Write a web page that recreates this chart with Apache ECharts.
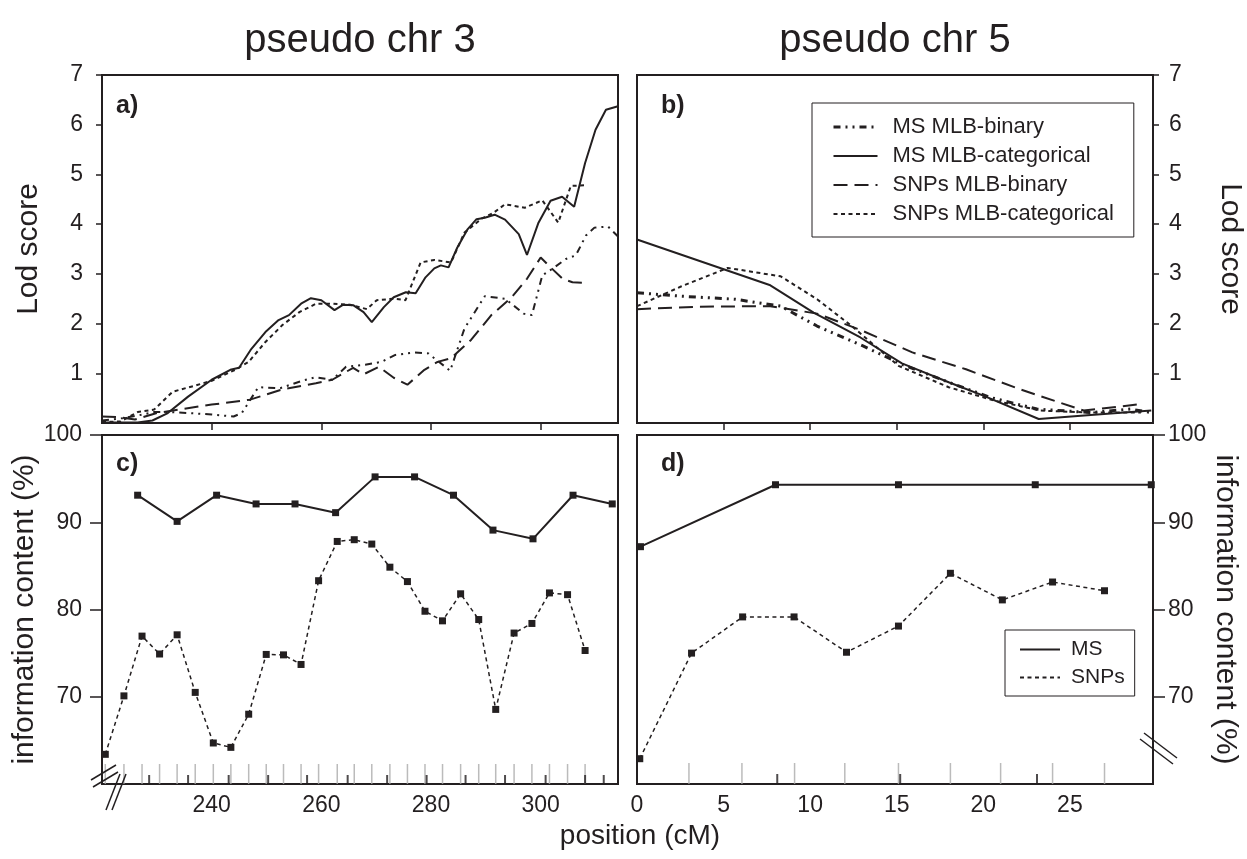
<!DOCTYPE html>
<html><head><meta charset="utf-8">
<script src="https://cdn.jsdelivr.net/npm/echarts@6/dist/echarts.min.js"></script>
<style>html,body{margin:0;padding:0;background:#fff}#c{width:1247px;height:859px}</style>
</head><body><div id="c"></div>
<script>
// ---- chr 3 LOD curves (panel a) ----
const chr3PosMSBin = [220,224,226.5,229.5,232.5,236,240,244,245.5,248.5,252.5,256.5,259,262,264.5,268,271,273.5,277,279.5,283.5,286.1,289.8,293.5,296.9,298.4,300.3,302.1,304.6,306.4,308.25,309.8,312.3,314.1];
const chr3LodMSBin = [0.05,0.1,0.15,0.22,0.22,0.2,0.17,0.13,0.2,0.72,0.7,0.85,0.92,0.87,1.13,1.17,1.23,1.37,1.42,1.4,1.05,1.9,2.55,2.5,2.2,2.17,2.97,3.1,3.3,3.37,3.77,3.93,3.95,3.75];
const chr3PosMSCat = [220.0,226.5,229.2,232.0,235.7,240.0,243.4,245.0,247.1,249.8,252.2,254.1,256.3,258.1,260.0,262.4,264.0,265.8,267.7,269.2,271.4,273.2,275.4,277.2,279.0,280.6,281.8,283.2,284.8,286.7,288.3,289.8,291.6,293.5,296.0,297.5,299.6,301.8,303.9,306.1,308.1,310.0,311.9,314.1];
const chr3LodMSCat = [0.01,0.01,0.05,0.2,0.53,0.87,1.07,1.11,1.47,1.83,2.07,2.17,2.4,2.51,2.47,2.27,2.38,2.37,2.23,2.03,2.33,2.53,2.63,2.61,2.93,3.11,3.17,3.13,3.53,3.9,4.1,4.13,4.19,4.09,3.8,3.38,4.03,4.47,4.55,4.35,5.23,5.9,6.3,6.37];
const chr3PosSNPBin = [220,222.8,226,230,234,240,247,253,259,262,265.8,267.7,270.5,273.2,275.7,278.8,281.2,283.6,287.3,291,294.7,297.5,300,302.1,304,305.8,307.9];
const chr3LodSNPBin = [0.13,0.12,0.07,0.2,0.27,0.37,0.47,0.68,0.8,0.87,1.11,0.98,1.13,0.91,0.77,1.07,1.23,1.3,1.67,2.17,2.53,2.9,3.33,3.1,2.9,2.83,2.82];
const chr3PosSNPCat = [220.0,223.4,226.5,229.5,232.9,236.9,240.0,244.3,246.75,249.8,252.9,256.0,259.05,262.1,265.2,268.3,270.1,273.2,275.35,278.1,280.6,283.65,286.1,289.2,291.3,293.5,297.1,300.3,303.2,305.5,307.9];
const chr3LodSNPCat = [0.02,0.03,0.22,0.27,0.63,0.75,0.85,1.07,1.23,1.63,1.97,2.23,2.4,2.4,2.38,2.29,2.47,2.5,2.47,3.23,3.28,3.23,3.83,4.11,4.22,4.4,4.33,4.48,4.03,4.77,4.78];

// ---- chr 5 LOD curves (panel b) ----
const chr5PosMSBin = [0,2.57,5.65,8.3,10.4,13.05,15.3,18.0,20.45,23.1,26.2,28.5,29.7];
const chr5LodMSBin = [2.62,2.55,2.49,2.35,1.95,1.55,1.18,0.82,0.51,0.28,0.21,0.28,0.21];
const chr5PosMSCat = [0,7.7,10.2,12.9,15.3,18.0,20.0,23.2,26.2,29.7];
const chr5LodMSCat = [3.69,2.77,2.22,1.72,1.2,0.82,0.55,0.08,0.16,0.25];
const chr5PosSNPBin = [0,3.6,7.7,10.4,12.85,15.9,19.0,22.1,25.8,29.1];
const chr5LodSNPBin = [2.29,2.34,2.35,2.2,1.88,1.42,1.08,0.68,0.25,0.38];
const chr5PosSNPCat = [0,2.57,5.24,8.3,10.4,12.4,15.1,18.0,20.65,23.3,26.2,29.1];
const chr5LodSNPCat = [2.35,2.75,3.12,2.95,2.49,1.95,1.15,0.72,0.45,0.25,0.21,0.21];

// ---- information content (panels c, d) ----
const chr3PosInfoMS = [226.5,233.7,240.9,248.1,255.2,262.6,269.8,277.0,284.1,291.3,298.6,305.9,313.05];
const chr3InfoMS = [93.1,90.1,93.1,92.1,92.1,91.1,95.2,95.2,93.1,89.1,88.1,93.1,92.1];
const chr3PosInfoSNP = [220.6,224.0,227.3,230.5,233.7,237.0,240.3,243.5,246.75,249.95,253.1,256.3,259.5,262.9,266.0,269.2,272.5,275.7,278.9,282.1,285.4,288.7,291.8,295.15,298.4,301.6,304.9,308.1];
const chr3InfoSNP = [63.4,70.1,76.95,74.9,77.1,70.5,64.7,64.2,68.0,74.85,74.8,73.7,83.3,87.8,88.0,87.5,84.85,83.2,79.8,78.7,81.8,78.85,68.55,77.3,78.4,81.9,81.7,75.3];
const chr5PosInfoMS = [0.2,8.0,15.1,23.0,29.7];
const chr5InfoMS = [87.2,94.3,94.3,94.3,94.3];
const chr5PosInfoSNP = [0.16,3.15,6.1,9.07,12.1,15.1,18.1,21.1,24.0,27.0];
const chr5InfoSNP = [62.9,75.0,79.15,79.15,75.1,78.1,84.15,81.1,83.15,82.15];

// ---- marker position ticks ----
const chr3SNPMarkers = [220.6,224.0,227.3,230.5,233.7,237.0,240.3,243.5,246.75,249.95,253.1,256.3,259.5,262.9,266.0,269.2,272.5,275.7,278.9,282.1,285.4,288.7,291.8,295.15,298.4,301.6,304.9,308.1];
const chr3MSMarkers = [228.6,235.7,243.1,250.3,257.4,264.8,272.0,279.2,286.3,293.5,300.9,308.1,311.5];
const chr5SNPMarkers = [3.0,6.06,9.1,12.0,15.1,18.1,21.0,24.0,27.0];
const chr5MSMarkers = [8.1,15.2,23.1];

// ---- axis ticks / labels ----
const chr3Ticks = [240,260,280,300];
const chr5Ticks = [5,10,15,20,25];
const chr5Labels = [0,5,10,15,20,25];
const lodTicks = [1,2,3,4,5,6,7];
const infoTicks = [70,80,90,100];

const legendLod = ['MS MLB-binary','MS MLB-categorical','SNPs MLB-binary','SNPs MLB-categorical'];
const legendInfo = ['MS','SNPs'];

const zip = (xs, ys) => xs.map((x, i) => [x, ys[i]]);
const INK = '#231f20';
const FONT = '"Liberation Sans", Arial, Helvetica, sans-serif';

const chart = echarts.init(document.getElementById('c'), null, {renderer: 'canvas'});

const gridBase = {show: true, borderColor: INK, borderWidth: 2, backgroundColor: 'transparent'};
const grids = [
  Object.assign({left: 102, top: 75, width: 516, height: 348}, gridBase),
  Object.assign({left: 637, top: 75, width: 516, height: 348}, gridBase),
  Object.assign({left: 102, top: 435, width: 516, height: 349}, gridBase),
  Object.assign({left: 637, top: 435, width: 516, height: 349}, gridBase)
];

function xAx(gi, min, max, ticks, labels) {
  return {
    type: 'value', gridIndex: gi, min: min, max: max,
    splitLine: {show: false},
    axisLine: {show: false, onZero: false},
    axisTick: ticks ? {show: true, customValues: ticks, length: 7, lineStyle: {color: INK, width: 1.5}} : {show: false},
    axisLabel: labels ? {show: true, customValues: labels, color: INK, fontSize: 23, fontFamily: FONT, margin: 10} : {show: false}
  };
}
function yAx(gi, min, max, ticks, pos, name, nameGap, tickLen, labelMargin) {
  return {
    type: 'value', gridIndex: gi, min: min, max: max, position: pos,
    name: name, nameLocation: 'middle', nameGap: nameGap,
    nameRotate: pos === 'left' ? 90 : -90,
    nameTextStyle: {color: INK, fontSize: 30, fontFamily: FONT},
    splitLine: {show: false},
    axisLine: {show: false, onZero: false},
    axisTick: {show: true, customValues: ticks, length: tickLen, lineStyle: {color: INK, width: 1.5}},
    axisLabel: {show: true, customValues: ticks, color: INK, fontSize: 23, fontFamily: FONT, margin: labelMargin}
  };
}

function curve(name, xi, xs, ys, type, width) {
  return {
    name: name, type: 'line', xAxisIndex: xi, yAxisIndex: xi,
    data: zip(xs, ys), symbol: 'none', smooth: false, silent: true,
    lineStyle: {color: INK, width: width, type: type, cap: 'butt'},
    itemStyle: {color: INK}
  };
}
function info(name, xi, xs, ys, type, width, size) {
  return {
    name: name, type: 'line', xAxisIndex: xi, yAxisIndex: xi,
    data: zip(xs, ys), symbol: 'rect', symbolSize: size, showSymbol: true, silent: true,
    lineStyle: {color: INK, width: width, type: type},
    itemStyle: {color: INK}, z: 3
  };
}
function markerTicks(name, xi, xs, color, h, w) {
  return {
    name: name, type: 'scatter', xAxisIndex: xi, yAxisIndex: xi,
    data: xs.map(x => [x, 60]), symbol: 'rect', symbolSize: [w, h],
    symbolOffset: [0, -h / 2], silent: true,
    itemStyle: {color: color}, z: 1
  };
}

const dashDotDot = [7, 5, 2, 5, 2, 5];
const longDash = [14, 7];
const shortDash = [4, 3.5];

const option = {
  animation: false,
  backgroundColor: '#fff',
  textStyle: {fontFamily: FONT},
  title: [
    {text: 'pseudo chr 3', left: 360, top: 21, textAlign: 'center', padding: 0, textStyle: {fontSize: 40, fontWeight: 'normal', color: INK, fontFamily: FONT}},
    {text: 'pseudo chr 5', left: 895, top: 21, textAlign: 'center', padding: 0, textStyle: {fontSize: 40, fontWeight: 'normal', color: INK, fontFamily: FONT}},
    {text: 'position (cM)', left: 640, top: 822, textAlign: 'center', padding: 0, textStyle: {fontSize: 28, fontWeight: 'normal', color: INK, fontFamily: FONT}},
    {text: 'a)', left: 116, top: 94, padding: 0, textStyle: {fontSize: 25, fontWeight: 'bold', color: INK, fontFamily: FONT}},
    {text: 'b)', left: 661, top: 94, padding: 0, textStyle: {fontSize: 25, fontWeight: 'bold', color: INK, fontFamily: FONT}},
    {text: 'c)', left: 116, top: 452, padding: 0, textStyle: {fontSize: 25, fontWeight: 'bold', color: INK, fontFamily: FONT}},
    {text: 'd)', left: 661, top: 452, padding: 0, textStyle: {fontSize: 25, fontWeight: 'bold', color: INK, fontFamily: FONT}}
  ],
  legend: [
    {
      data: legendLod.map((n, i) => i === 0 ? {name: n, lineStyle: {width: 3}} : {name: n}),
      orient: 'vertical', left: 812, top: 103,
      itemWidth: 44, itemHeight: 14, itemGap: 7, padding: [13, 20, 12, 20],
      borderColor: INK, borderWidth: 1, selectedMode: false,
      itemStyle: {opacity: 0},
      textStyle: {color: INK, fontSize: 22, fontFamily: FONT, padding: [0, 0, 0, 10]}
    },
    {
      data: legendInfo, orient: 'vertical', left: 1005, top: 630,
      itemWidth: 40, itemHeight: 14, itemGap: 7, padding: [9, 10, 8, 14],
      borderColor: INK, borderWidth: 1, selectedMode: false,
      itemStyle: {opacity: 0},
      textStyle: {color: INK, fontSize: 21, fontFamily: FONT, padding: [0, 0, 0, 6]}
    }
  ],
  grid: grids,
  xAxis: [
    xAx(0, 220, 314.1, chr3Ticks, null),
    xAx(1, 0, 29.8, chr5Ticks, null),
    xAx(2, 220, 314.1, null, chr3Ticks),
    xAx(3, 0, 29.8, null, chr5Labels)
  ],
  yAxis: [
    yAx(0, 0, 7, lodTicks, 'left', 'Lod score', 58, 6, 19),
    yAx(1, 0, 7, lodTicks, 'right', 'Lod score', 62, 6, 16),
    yAx(2, 60, 100, infoTicks, 'left', 'information content (%)', 62, 12, 20),
    yAx(3, 60, 100, infoTicks, 'right', 'information content (%)', 56, 12, 15)
  ],
  series: [
    curve('MS MLB-binary', 1, chr5PosMSBin, chr5LodMSBin, dashDotDot, 3),
    curve('MS MLB-categorical', 1, chr5PosMSCat, chr5LodMSCat, 'solid', 2),
    curve('SNPs MLB-binary', 1, chr5PosSNPBin, chr5LodSNPBin, longDash, 2),
    curve('SNPs MLB-categorical', 1, chr5PosSNPCat, chr5LodSNPCat, shortDash, 2),
    curve('MS MLB-binary', 0, chr3PosMSBin, chr3LodMSBin, dashDotDot, 2),
    curve('MS MLB-categorical', 0, chr3PosMSCat, chr3LodMSCat, 'solid', 2),
    curve('SNPs MLB-binary', 0, chr3PosSNPBin, chr3LodSNPBin, longDash, 2),
    curve('SNPs MLB-categorical', 0, chr3PosSNPCat, chr3LodSNPCat, shortDash, 2),
    markerTicks('snp-markers-3', 2, chr3SNPMarkers, '#aaaaaa', 20, 1.5),
    markerTicks('ms-markers-3', 2, chr3MSMarkers, INK, 9, 2),
    markerTicks('snp-markers-5', 3, chr5SNPMarkers, '#aaaaaa', 21, 1.5),
    markerTicks('ms-markers-5', 3, chr5MSMarkers, INK, 10, 2),
    info('MS', 2, chr3PosInfoMS, chr3InfoMS, 'solid', 2, 7),
    info('SNPs', 2, chr3PosInfoSNP, chr3InfoSNP, shortDash, 1.5, 7),
    info('MS', 3, chr5PosInfoMS, chr5InfoMS, 'solid', 2, 7),
    info('SNPs', 3, chr5PosInfoSNP, chr5InfoSNP, shortDash, 1.5, 7)
  ],
  graphic: [
    {type: 'line', shape: {x1: 91, y1: 780, x2: 116, y2: 765}, style: {stroke: INK, lineWidth: 1.5}, z: 10},
    {type: 'line', shape: {x1: 93, y1: 787, x2: 118, y2: 772}, style: {stroke: INK, lineWidth: 1.5}, z: 10},
    {type: 'line', shape: {x1: 106, y1: 810, x2: 120, y2: 774}, style: {stroke: INK, lineWidth: 1.5}, z: 10},
    {type: 'line', shape: {x1: 112, y1: 810, x2: 126, y2: 774}, style: {stroke: INK, lineWidth: 1.5}, z: 10},
    {type: 'line', shape: {x1: 1140, y1: 739, x2: 1173, y2: 764}, style: {stroke: INK, lineWidth: 1.5}, z: 10},
    {type: 'line', shape: {x1: 1144, y1: 733, x2: 1177, y2: 758}, style: {stroke: INK, lineWidth: 1.5}, z: 10}
  ]
};
chart.setOption(option);
</script>
</body></html>
